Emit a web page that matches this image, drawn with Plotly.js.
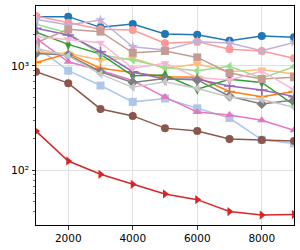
<!DOCTYPE html>
<html><head><meta charset="utf-8">
<script src="https://cdn.plot.ly/plotly-3.0.1.min.js"></script>
<style>html,body{margin:0;padding:0;background:#fff}#chart{width:300px;height:250px}</style>
</head><body><div id="chart"></div>
<script>
const xs = [1000,2000,3000,4000,5000,6000,7000,8000,9000];

const blue        = [2950,2950,2330,2510,2010,1980,1735,1925,1870];
const lightBlue   = [1520,895,645,450,485,390,315,195,180];
const orange      = [1070,1310,945,860,785,775,565,505,565];
const lightOrange = [1350,1310,1135,1180,945,1040,875,920,830];
const green       = [2090,1600,1290,800,815,595,740,690,420];
const lightGreen  = [2500,2060,1270,1135,960,895,985,760,980];
const red         = [236,122,91,73,59,52,40,37,37.5];
const lightRed    = [3000,2580,2230,2200,1640,1700,1435,1380,1180];
const purple      = [2280,1970,1360,875,740,740,640,585,505];
const lightPurple = [2780,2460,2740,1520,1415,1700,1650,1390,1670];
const brown       = [875,680,385,330,252,236,198,194,190];
const lightBrown  = [1660,2230,2120,1330,1385,1200,850,745,775];
const pink        = [1830,1090,900,720,500,360,337,300,240];
const lightPink   = [1900,1790,1660,945,1055,770,730,890,585];
const gray        = [1310,1265,875,690,755,730,510,430,470];
const lightGray   = [1470,1240,830,620,700,605,500,475,400];

const yTickVals = [100,1000];
const yTickText = ['10²','10³'];
const xTickVals = [2000,4000,6000,8000];
const xTickText = ['2000','4000','6000','8000'];

const series = [
  [blue,'#1f77b4','circle'],
  [lightBlue,'#aec7e8','square'],
  [orange,'#ff7f0e','cross-thin-open'],
  [lightOrange,'#ffbb78','triangle-down'],
  [green,'#2ca02c','diamond-tall'],
  [lightGreen,'#98df8a','triangle-left'],
  [red,'#d62728','triangle-right'],
  [lightRed,'#ff9896','circle'],
  [purple,'#9467bd','cross-thin-open'],
  [lightPurple,'#c5b0d5','star'],
  [brown,'#8c564b','circle'],
  [lightBrown,'#c49c94','square'],
  [pink,'#e377c2','triangle-up'],
  [lightPink,'#f7b6d2','triangle-down'],
  [gray,'#7f7f7f','diamond'],
  [lightGray,'#c7c7c7','triangle-left']
];

const traces = series.map(([y,c,m]) => ({
  x: xs, y: y, type:'scatter', mode:'lines+markers',
  line:{color:c, width:1.5},
  marker:{color:c, symbol:m, size:8, line:{color:c, width: m.indexOf('cross')>=0 ? 1.5 : 0}},
  showlegend:false
}));

const minorVals = [40,50,60,70,80,90,200,300,400,500,600,700,800,900,2000,3000];

const layout = {
  width:300, height:250,
  margin:{l:36, r:6, t:6, b:25},
  paper_bgcolor:'#fff', plot_bgcolor:'#fff',
  font:{family:'DejaVu Sans', size:10.5, color:'#000'},
  xaxis:{range:[1000,9000], tickmode:'array', tickvals:xTickVals, ticktext:xTickText,
    showgrid:true, gridcolor:'#e0e0e0', gridwidth:1, zeroline:false,
    showline:true, linecolor:'#000', linewidth:1, mirror:true,
    ticks:'outside', ticklen:3.5, tickwidth:0.8, tickcolor:'#000'},
  yaxis:{type:'log', range:[1.473,3.572], tickmode:'array', tickvals:yTickVals, ticktext:yTickText,
    tickfont:{size:11},
    showgrid:true, gridcolor:'#e0e0e0', gridwidth:1, zeroline:false,
    showline:true, linecolor:'#000', linewidth:1, mirror:true,
    ticks:'outside', ticklen:3.5, tickwidth:0.8, tickcolor:'#000',
    minor:{tickmode:'array', tickvals:minorVals, ticks:'outside', ticklen:2, tickwidth:0.6, tickcolor:'#000', showgrid:false}}
};

Plotly.newPlot('chart', traces, layout, {staticPlot:true, displayModeBar:false});
</script>
</body></html>
